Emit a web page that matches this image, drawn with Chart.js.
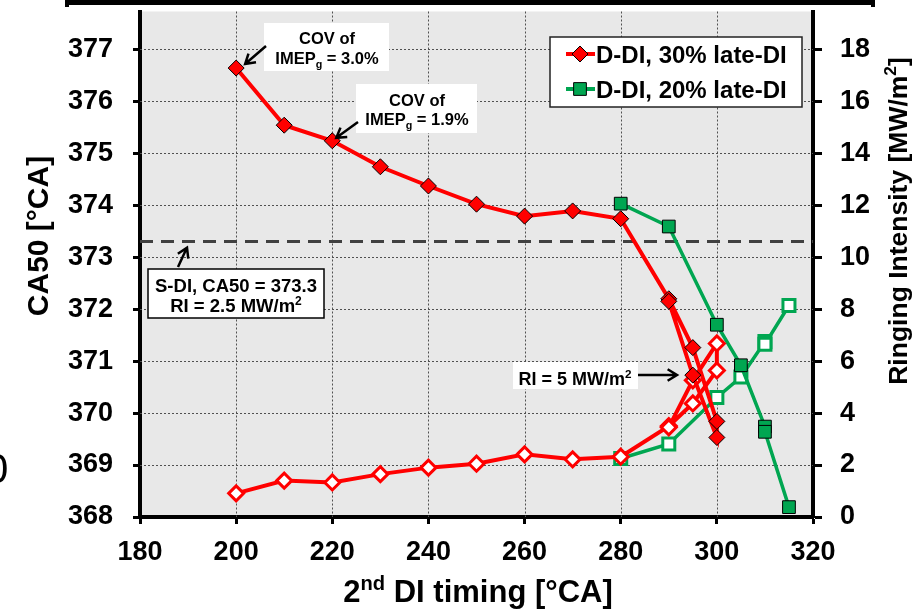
<!DOCTYPE html>
<html>
<head>
<meta charset="utf-8">
<script src="https://cdn.jsdelivr.net/npm/chart.js@4.4.1/dist/chart.umd.min.js"></script>
<style>
  html, body { margin: 0; padding: 0; background: #fff; }
  canvas { display: block; }
</style>
</head>
<body>
<canvas id="chart" width="913" height="609"></canvas>
<script>
// D-DI, 30% late-DI: sweep goes out to 300 and back to 290
const timing30 = [200, 210, 220, 230, 240, 250, 260, 270, 280, 290, 295, 300, 300, 295, 290]
const ca50_30 = [376.64, 375.54, 375.24, 374.74, 374.37, 374.02, 373.79, 373.89, 373.74, 372.2, 371.26, 369.84, 369.53, 370.73, 372.15]
const ri30 = [0.91, 1.40, 1.33, 1.65, 1.90, 2.05, 2.41, 2.22, 2.32, 3.50, 4.37, 5.64, 6.68, 5.26, 3.45]

// D-DI, 20% late-DI
const timing20 = [280, 290, 300, 305, 310, 310, 315]
const ca50_20 = [374.03, 373.59, 371.70, 370.92, 369.74, 369.64, 368.19]
const ri20 = [2.25, 2.81, 4.60, 5.39, 6.75, 6.65, 8.14]

// S-DI reference
const sdiTiming = [180, 320]
const sdiCA50 = 373.3

const seriesNames = ['D-DI, 30% late-DI', 'D-DI, 20% late-DI']

const RED = '#ff0000'
const GREEN = '#00a651'
const FONT = '"Liberation Sans", Arial, sans-serif'
const TICK_FONT = { family: FONT, size: 27, weight: 'bold' }

const pts = (xs, ys) => xs.map((x, i) => ({ x, y: ys[i] }))

function drawRich(ctx, parts, x, y, size, align) {
  let w = 0
  parts.forEach(([t, k]) => {
    ctx.font = `bold ${k ? size * 0.65 : size}px ${FONT}`
    w += ctx.measureText(t).width
  })
  let cx = align === 'center' ? x - w / 2 : x
  ctx.textAlign = 'left'
  ctx.textBaseline = 'alphabetic'
  parts.forEach(([t, k]) => {
    ctx.font = `bold ${k ? size * 0.65 : size}px ${FONT}`
    const dy = k === 'sup' ? -size * 0.4 : k === 'sub' ? size * 0.22 : 0
    ctx.fillText(t, cx, y + dy)
    cx += ctx.measureText(t).width
  })
}

function arrow(ctx, x1, y1, x2, y2) {
  const a = Math.atan2(y2 - y1, x2 - x1)
  const h = 11
  ctx.beginPath()
  ctx.moveTo(x1, y1)
  ctx.lineTo(x2, y2)
  ctx.moveTo(x2 - h * Math.cos(a - 0.55), y2 - h * Math.sin(a - 0.55))
  ctx.lineTo(x2, y2)
  ctx.lineTo(x2 - h * Math.cos(a + 0.55), y2 - h * Math.sin(a + 0.55))
  ctx.stroke()
}

const decorations = {
  id: 'decorations',
  beforeDraw(chart) {
    const { ctx, chartArea: a } = chart
    ctx.save()
    ctx.fillStyle = '#fff'
    ctx.fillRect(0, 0, chart.width, chart.height)
    ctx.fillStyle = '#e8e8e8'
    ctx.fillRect(a.left, a.top, a.right - a.left, a.bottom - a.top)
    ctx.restore()
  },
  beforeDatasetsDraw(chart) {
    // dotted grid, drawn here so it stays under the data
    const { ctx, chartArea: a } = chart
    const x = chart.scales.x, y = chart.scales.y
    ctx.save()
    ctx.strokeStyle = '#505050'
    ctx.lineWidth = 1
    ctx.setLineDash([2, 2])
    ctx.beginPath()
    x.ticks.forEach((t) => {
      if (t.value === x.min || t.value === x.max) return
      const px = Math.round(x.getPixelForValue(t.value)) + 0.5
      ctx.moveTo(px, a.top)
      ctx.lineTo(px, a.bottom)
    })
    y.ticks.forEach((t) => {
      if (t.value === y.min) return
      const py = Math.round(y.getPixelForValue(t.value)) + 0.5
      ctx.moveTo(a.left, py)
      ctx.lineTo(a.right, py)
    })
    ctx.stroke()
    ctx.restore()
  },
  afterDatasetsDraw(chart) {
    const { ctx } = chart
    const x = chart.scales.x, y = chart.scales.y
    ctx.save()
    ctx.fillStyle = '#000'
    ctx.strokeStyle = '#000'
    ctx.lineWidth = 2.5

    // COV boxes
    ctx.fillStyle = '#fff'
    ctx.fillRect(264, 23, 125, 48)
    ctx.fillRect(356, 84, 121, 49)
    ctx.fillStyle = '#000'
    drawRich(ctx, [['COV of']], 327, 44, 16.5, 'center')
    drawRich(ctx, [['IMEP'], ['g', 'sub'], [' = 3.0%']], 327, 64, 16.5, 'center')
    drawRich(ctx, [['COV of']], 417, 106, 16.5, 'center')
    drawRich(ctx, [['IMEP'], ['g', 'sub'], [' = 1.9%']], 417, 125, 16.5, 'center')
    arrow(ctx, 266, 46, x.getPixelForValue(200) + 9, y.getPixelForValue(ca50_30[0]) - 4)
    arrow(ctx, 358, 122, x.getPixelForValue(220) + 4, y.getPixelForValue(ca50_30[2]) - 3)

    // S-DI box
    ctx.fillStyle = '#fff'
    ctx.fillRect(148, 269, 176, 49)
    ctx.lineWidth = 1.5
    ctx.strokeRect(148, 269, 176, 49)
    ctx.fillStyle = '#000'
    drawRich(ctx, [['S-DI, CA50 = 373.3']], 236, 292, 18.5, 'center')
    drawRich(ctx, [['RI = 2.5 MW/m'], ['2', 'sup']], 236, 312, 18.5, 'center')
    ctx.lineWidth = 2.5
    arrow(ctx, 178, 267, 187, y.getPixelForValue(sdiCA50) + 6)

    // RI = 5 box
    ctx.fillStyle = '#fff'
    ctx.fillRect(513, 362, 125, 27)
    ctx.fillStyle = '#000'
    drawRich(ctx, [['RI = 5 MW/m'], ['2', 'sup']], 575, 385, 18, 'center')
    arrow(ctx, 638, 375, 677, 375)

    // legend
    ctx.fillStyle = '#fff'
    ctx.fillRect(550, 37, 252, 70)
    ctx.lineWidth = 1.5
    ctx.strokeStyle = '#222'
    ctx.strokeRect(550, 37, 252, 70)
    const items = [
      { color: RED, style: 'rectRot', r: 8, cy: 54 },
      { color: GREEN, style: 'rect', r: 9, cy: 89 }
    ]
    items.forEach((it, i) => {
      ctx.strokeStyle = it.color
      ctx.lineWidth = 4
      ctx.beginPath()
      ctx.moveTo(566, it.cy)
      ctx.lineTo(595, it.cy)
      ctx.stroke()
      ctx.fillStyle = it.color
      ctx.strokeStyle = '#000'
      ctx.lineWidth = 1
      Chart.helpers.drawPoint(ctx, { pointStyle: it.style, radius: it.r, rotation: 0, borderWidth: 1 }, 580, it.cy)
      ctx.fillStyle = '#000'
      drawRich(ctx, [[seriesNames[i]]], 596, it.cy + 9, 24, 'left')
    })
    ctx.restore()
  },
  afterDraw(chart) {
    const { ctx } = chart
    ctx.save()
    ctx.fillStyle = '#000'
    // axis titles
    drawRich(ctx, [['2'], ['nd', 'sup'], [' DI timing [°CA]']], 478, 602, 31, 'center')
    ctx.save()
    ctx.translate(48, 236)
    ctx.rotate(-Math.PI / 2)
    drawRich(ctx, [['CA50 [°CA]']], 0, 0, 30, 'center')
    ctx.restore()
    ctx.save()
    ctx.translate(907, 221)
    ctx.rotate(-Math.PI / 2)
    drawRich(ctx, [['Ringing Intensity [MW/m'], ['2', 'sup'], [']']], 0, 0, 26.5, 'center')
    ctx.restore()

    // frame edge of the figure above and neighbouring figure fragment
    ctx.fillRect(65, 0, 810, 5)
    ctx.fillRect(65, 0, 4, 7)
    ctx.fillRect(871, 0, 4, 7)
    ctx.font = `42px ${FONT}`
    ctx.textBaseline = 'alphabetic'
    ctx.fillText('0', -15, 483)
    ctx.restore()
  }
}

const tickGrid = { drawOnChartArea: false, tickColor: '#000', tickWidth: 3 }

new Chart(document.getElementById('chart'), {
  type: 'line',
  data: {
    datasets: [
      {
        label: seriesNames[0],
        data: pts(timing30, ca50_30),
        yAxisID: 'y',
        borderColor: RED,
        borderWidth: 4,
        pointStyle: 'rectRot',
        pointRadius: 8,
        pointBackgroundColor: RED,
        pointBorderColor: '#000',
        pointBorderWidth: 1
      },
      {
        label: seriesNames[0] + ' RI',
        data: pts(timing30, ri30),
        yAxisID: 'y1',
        borderColor: RED,
        borderWidth: 4,
        pointStyle: 'rectRot',
        pointRadius: 7.5,
        pointBackgroundColor: '#fff',
        pointBorderColor: RED,
        pointBorderWidth: 3
      },
      {
        label: seriesNames[1],
        data: pts(timing20, ca50_20),
        yAxisID: 'y',
        borderColor: GREEN,
        borderWidth: 3.5,
        pointStyle: 'rect',
        pointRadius: 9,
        pointBackgroundColor: GREEN,
        pointBorderColor: '#000',
        pointBorderWidth: 1
      },
      {
        label: seriesNames[1] + ' RI',
        data: pts(timing20, ri20),
        yAxisID: 'y1',
        borderColor: GREEN,
        borderWidth: 3.5,
        pointStyle: 'rect',
        pointRadius: 8.5,
        pointBackgroundColor: '#fff',
        pointBorderColor: GREEN,
        pointBorderWidth: 3
      },
      {
        label: 'S-DI',
        data: pts(sdiTiming, sdiTiming.map(() => sdiCA50)),
        yAxisID: 'y',
        borderColor: '#404040',
        borderWidth: 3,
        borderDash: [13, 8],
        pointRadius: 0
      }
    ]
  },
  options: {
    responsive: false,
    animation: false,
    layout: { padding: { top: 5, left: 0, right: 0, bottom: 0 } },
    plugins: {
      legend: { display: false },
      tooltip: { enabled: false }
    },
    scales: {
      x: {
        type: 'linear',
        min: 180,
        max: 320,
        ticks: { stepSize: 20, font: TICK_FONT, color: '#000', padding: 12, maxRotation: 0 },
        grid: { ...tickGrid, tickLength: 7 },
        border: { display: true, color: '#000', width: 4 },
        afterFit: (s) => { s.height = 92; s.paddingLeft = 0; s.paddingRight = 0 }
      },
      y: {
        position: 'left',
        min: 368,
        max: 377.728,
        ticks: { stepSize: 1, includeBounds: false, font: TICK_FONT, color: '#000', padding: 20 },
        grid: { ...tickGrid, tickLength: 7 },
        border: { display: true, color: '#000', width: 4 },
        afterFit: (s) => { s.width = 140; s.paddingTop = 0; s.paddingBottom = 0 }
      },
      y1: {
        position: 'right',
        min: 0,
        max: 19.456,
        ticks: { stepSize: 2, includeBounds: false, font: TICK_FONT, color: '#000', padding: 18 },
        grid: { ...tickGrid, tickLength: 9 },
        border: { display: true, color: '#000', width: 4 },
        afterFit: (s) => { s.width = 100; s.paddingTop = 0; s.paddingBottom = 0 }
      }
    }
  },
  plugins: [decorations]
})
</script>
</body>
</html>
